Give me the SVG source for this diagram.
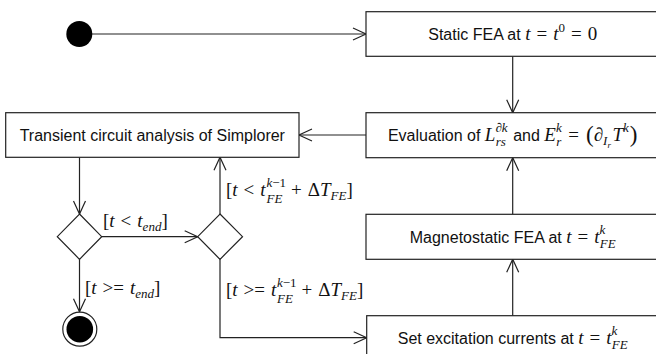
<svg xmlns="http://www.w3.org/2000/svg" width="656" height="354" viewBox="0 0 656 354">
<defs>
<marker id="arr" markerWidth="16" markerHeight="16" refX="0" refY="0" viewBox="-14 -8 16 16" markerUnits="userSpaceOnUse" orient="auto">
<path d="M -13 -6 L 0 0 L -13 6" fill="none" stroke="#222" stroke-width="1.2"/>
</marker>
<style>
.box{fill:#fff;stroke:#222;stroke-width:1.2}
.dia{fill:#fff;stroke:#222;stroke-width:1.2}
.con{fill:none;stroke:#222;stroke-width:1.2;marker-end:url(#arr)}
text{fill:#111;font-size:19px}
.sf{font-family:"Liberation Sans",Arial,sans-serif;font-size:16px}
.mi{font-family:"Liberation Serif","Times New Roman",serif;font-style:italic}
.mr{font-family:"Liberation Serif","Times New Roman",serif;font-style:normal}
.sc{font-size:13px}
.ss{font-size:9px}
.bp{font-size:23px}
</style>
</defs>
<rect width="656" height="354" fill="#fff"/>
<g id="connectors">
<line class="con" x1="92" y1="34" x2="366" y2="34"/>
<line class="con" x1="512.7" y1="56.3" x2="512.7" y2="112.7"/>
<line class="con" x1="366" y1="135" x2="299" y2="135"/>
<line class="con" x1="79.5" y1="157.3" x2="79.5" y2="214"/>
<line class="con" x1="101.7" y1="236.7" x2="197.7" y2="236.7"/>
<line class="con" x1="220" y1="214" x2="220" y2="157.3"/>
<line class="con" x1="79.5" y1="259.3" x2="79.5" y2="311.7"/>
<path class="con" d="M 220 259.3 V 337.7 H 366.7"/>
<line class="con" x1="512.7" y1="315.7" x2="512.7" y2="259.3"/>
<line class="con" x1="512.7" y1="214.3" x2="512.7" y2="157.7"/>
</g>
<g id="labels">
<text x="103" y="227"><tspan class="mr">[</tspan><tspan class="mi">t</tspan><tspan class="mr" dx="6">&lt;</tspan><tspan class="mi" dx="6">t</tspan><tspan class="mi sc" dy="4">end</tspan><tspan class="mr" dy="-4">]</tspan></text>
<text x="85" y="294"><tspan class="mr">[</tspan><tspan class="mi">t</tspan><tspan class="mr" dx="6">&gt;=</tspan><tspan class="mi" dx="6">t</tspan><tspan class="mi sc" dy="4">end</tspan><tspan class="mr" dy="-4">]</tspan></text>
<text x="226" y="196"><tspan class="mr">[</tspan><tspan class="mi">t</tspan><tspan class="mr" dx="6">&lt;</tspan><tspan class="mi" dx="6">t</tspan></text>
<text x="266.5" y="187" class="sc"><tspan class="mi">k</tspan><tspan class="mr">−1</tspan></text>
<text x="266.5" y="203" class="mi sc">FE</text>
<text x="291" y="196"><tspan class="mr">+</tspan><tspan class="mr" dx="6">Δ</tspan><tspan class="mi">T</tspan><tspan class="mi sc" dy="4">FE</tspan><tspan class="mr" dy="-4">]</tspan></text>
<text x="226" y="296"><tspan class="mr">[</tspan><tspan class="mi">t</tspan><tspan class="mr" dx="6">&gt;=</tspan><tspan class="mi" dx="6">t</tspan></text>
<text x="277" y="287" class="sc"><tspan class="mi">k</tspan><tspan class="mr">−1</tspan></text>
<text x="277" y="303" class="mi sc">FE</text>
<text x="301.5" y="296"><tspan class="mr">+</tspan><tspan class="mr" dx="6">Δ</tspan><tspan class="mi">T</tspan><tspan class="mi sc" dy="4">FE</tspan><tspan class="mr" dy="-4">]</tspan></text>
</g>
<g id="start"><circle cx="79.3" cy="34" r="13" fill="#000"/></g>
<g id="static-fea">
<rect class="box" x="366" y="11.7" width="294" height="44.6"/>
<text x="512.7" y="40" text-anchor="middle"><tspan class="sf">Static FEA at </tspan><tspan class="mi">t</tspan><tspan class="mr" dx="6">=</tspan><tspan class="mi" dx="6">t</tspan><tspan class="mr sc" dy="-8">0</tspan><tspan class="mr" dx="6" dy="8">=</tspan><tspan class="mr" dx="6">0</tspan></text>
</g>
<g id="evaluation">
<rect class="box" x="366" y="112.7" width="294" height="45"/>
<text x="512.7" y="141" text-anchor="middle"><tspan class="sf">Evaluation of </tspan><tspan class="mi">L</tspan><tspan class="mi sc" dy="-9">∂k</tspan><tspan class="mi sc" dx="-12" dy="14">rs</tspan><tspan class="sf" dx="3" dy="-5"> and </tspan><tspan class="mi">E</tspan><tspan class="mi sc" dy="-9">k</tspan><tspan class="mi sc" dx="-5.5" dy="14">r</tspan><tspan class="mr" dx="7" dy="-5">=</tspan><tspan class="mr bp" dx="7" dy="1">(</tspan><tspan class="mi" dy="-1">∂</tspan><tspan class="mi sc" dy="4">I</tspan><tspan class="mi ss" dy="3">r</tspan><tspan class="mi" dx="1.5" dy="-7">T</tspan><tspan class="mi sc" dy="-9">k</tspan><tspan class="mr bp" dx="1" dy="10">)</tspan></text>
</g>
<g id="transient">
<rect class="box" x="5.7" y="112.7" width="293.3" height="44.6"/>
<text class="sf" x="152.3" y="141" text-anchor="middle">Transient circuit analysis of Simplorer</text>
</g>
<g id="magnetostatic">
<rect class="box" x="366" y="214.3" width="294" height="45"/>
<text x="512.7" y="243" text-anchor="middle"><tspan class="sf">Magnetostatic FEA at </tspan><tspan class="mi">t</tspan><tspan class="mr" dx="6">=</tspan><tspan class="mi" dx="6">t</tspan><tspan class="mi sc" dy="-9">k</tspan><tspan class="mi sc" dx="-5.5" dy="14">FE</tspan></text>
</g>
<g id="set-currents">
<rect class="box" x="366.7" y="315.7" width="294" height="45"/>
<text x="512.7" y="344" text-anchor="middle"><tspan class="sf">Set excitation currents at </tspan><tspan class="mi">t</tspan><tspan class="mr" dx="6">=</tspan><tspan class="mi" dx="6">t</tspan><tspan class="mi sc" dy="-9">k</tspan><tspan class="mi sc" dx="-5.5" dy="14">FE</tspan></text>
</g>
<g id="decision1"><polygon class="dia" points="79.5,214 101.7,236.7 79.5,259.3 57.3,236.7"/></g>
<g id="decision2"><polygon class="dia" points="220,214 242.5,236.7 220,259.3 197.7,236.7"/></g>
<g id="end"><circle cx="79.8" cy="329.2" r="17" fill="#fff" stroke="#222" stroke-width="1.2"/><circle cx="79.8" cy="329.2" r="13.3" fill="#000"/></g>
</svg>
